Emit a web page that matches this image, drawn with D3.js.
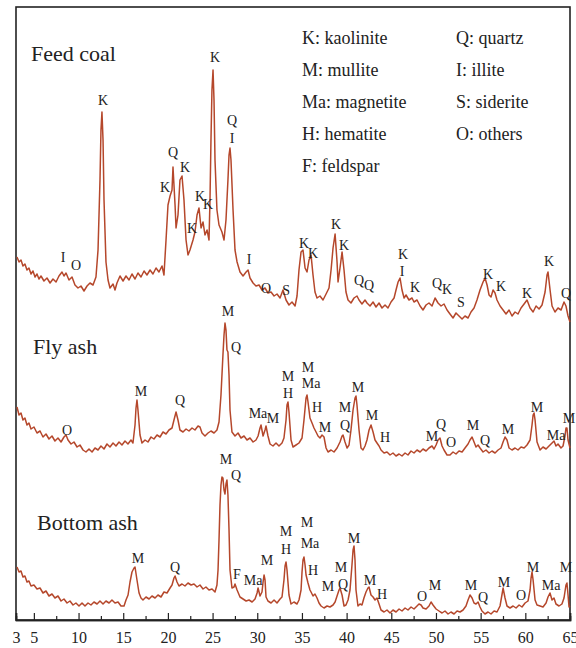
<!DOCTYPE html>
<html>
<head>
<meta charset="utf-8">
<script src="https://cdn.jsdelivr.net/npm/d3@7"></script>
<style>
  body { margin: 0; background: #fff; }
  svg text { font-family: "Liberation Serif", "DejaVu Serif", serif; fill: #222; }
</style>
</head>
<body>
<svg id="chart" width="576" height="648"></svg>
<script>
// 2-theta (deg) and stacked intensity (a.u.)
const feedCoal = [[3.11,358],[3.34,353],[3.56,355],[3.78,349],[4.0,351],[4.23,345],[4.45,347],[4.68,341],[4.9,344],[5.13,338],[5.35,341],[5.57,336],[5.8,339],[6.13,334],[6.47,337],[6.81,332],[7.14,336],[7.48,333],[7.81,339],[8.15,343],[8.37,339],[8.6,342],[8.93,335],[9.27,338],[9.6,330],[9.94,327],[10.27,329],[10.61,324],[10.95,329],[11.28,332],[11.62,330],[11.95,338],[12.18,365],[12.4,435],[12.51,485],[12.62,503],[12.74,475],[12.85,415],[13.07,353],[13.3,335],[13.52,327],[13.86,331],[14.08,325],[14.3,332],[14.64,339],[14.98,334],[15.31,339],[15.65,335],[15.98,341],[16.32,336],[16.65,342],[16.99,338],[17.33,344],[17.66,340],[18.0,345],[18.33,341],[18.67,347],[19.0,343],[19.34,349],[19.56,340],[19.79,375],[20.01,410],[20.24,419],[20.46,425],[20.57,448],[20.8,410],[20.91,387],[21.13,400],[21.35,435],[21.58,439],[21.8,415],[22.03,375],[22.25,360],[22.47,365],[22.81,375],[23.03,383],[23.26,400],[23.48,407],[23.71,387],[23.93,393],[24.15,380],[24.38,385],[24.6,375],[24.71,415],[24.82,475],[24.93,525],[25.05,545],[25.16,515],[25.27,455],[25.49,405],[25.72,390],[26.05,383],[26.28,375],[26.5,395],[26.72,435],[26.84,460],[26.95,467],[27.06,455],[27.29,405],[27.51,365],[27.74,353],[28.07,343],[28.41,339],[28.75,343],[28.97,345],[29.19,337],[29.53,332],[29.86,329],[30.2,330],[30.53,325],[30.87,327],[31.2,322],[31.54,323],[31.88,319],[32.21,321],[32.55,317],[32.88,325],[33.22,315],[33.55,310],[33.89,313],[34.23,309],[34.45,319],[34.67,345],[34.9,363],[35.12,365],[35.35,347],[35.57,343],[35.79,355],[36.02,360],[36.24,340],[36.46,323],[36.69,317],[37.02,319],[37.36,315],[37.7,321],[38.03,327],[38.26,345],[38.48,367],[38.71,381],[38.93,353],[39.04,333],[39.26,347],[39.49,363],[39.71,345],[39.93,323],[40.16,315],[40.49,312],[40.83,317],[41.16,319],[41.39,315],[41.72,311],[42.06,315],[42.28,312],[42.62,309],[42.96,313],[43.29,308],[43.63,312],[43.96,307],[44.3,310],[44.63,307],[44.97,313],[45.31,317],[45.53,325],[45.76,333],[45.98,337],[46.2,325],[46.43,317],[46.65,320],[46.98,315],[47.32,317],[47.54,313],[47.88,315],[48.22,309],[48.55,305],[48.89,310],[49.22,312],[49.56,309],[49.9,317],[50.23,312],[50.57,309],[50.9,311],[51.24,305],[51.57,301],[51.91,297],[52.24,302],[52.58,299],[52.92,296],[53.25,299],[53.59,297],[53.92,303],[54.26,307],[54.59,315],[54.93,325],[55.27,333],[55.49,337],[55.72,330],[55.94,320],[56.16,318],[56.39,325],[56.61,322],[56.83,315],[57.17,309],[57.51,305],[57.84,301],[58.18,305],[58.51,299],[58.85,303],[59.18,301],[59.52,307],[59.86,311],[60.19,315],[60.53,307],[60.87,303],[61.2,309],[61.54,306],[61.87,310],[62.21,323],[62.43,340],[62.54,343],[62.77,325],[62.99,309],[63.32,303],[63.66,307],[64.0,305],[64.33,313],[64.55,309],[64.78,299],[65.0,293]];

const flyAsh = [[3.11,208],[3.34,200],[3.56,202],[3.78,195],[4.0,197],[4.23,190],[4.45,192],[4.68,186],[5.01,188],[5.35,182],[5.69,184],[6.02,178],[6.36,181],[6.69,176],[7.03,179],[7.36,174],[7.7,177],[8.04,173],[8.37,178],[8.6,180],[8.82,175],[9.16,171],[9.49,173],[9.83,168],[10.16,170],[10.5,165],[10.83,163],[11.17,166],[11.51,163],[11.84,167],[12.18,165],[12.51,169],[12.85,166],[13.18,171],[13.52,168],[13.86,172],[14.19,169],[14.53,173],[14.86,170],[15.2,174],[15.53,171],[15.87,175],[16.09,172],[16.32,190],[16.43,207],[16.54,215],[16.65,205],[16.88,180],[17.1,172],[17.44,175],[17.77,173],[18.11,178],[18.44,176],[18.78,180],[19.12,178],[19.45,183],[19.79,181],[20.12,185],[20.46,187],[20.68,195],[20.91,203],[21.13,195],[21.35,185],[21.69,183],[22.03,186],[22.36,184],[22.7,187],[23.03,185],[23.37,189],[23.59,188],[23.82,182],[24.15,179],[24.49,182],[24.82,184],[25.16,182],[25.49,185],[25.72,193],[25.94,220],[26.16,260],[26.28,280],[26.39,292],[26.5,285],[26.61,265],[26.72,263],[26.84,240],[26.95,205],[27.17,183],[27.51,179],[27.85,182],[28.18,177],[28.52,179],[28.85,175],[29.19,177],[29.53,173],[29.86,175],[30.09,179],[30.31,187],[30.42,190],[30.65,179],[30.87,185],[30.98,189],[31.2,179],[31.43,171],[31.76,169],[32.1,172],[32.43,169],[32.77,172],[32.99,177],[33.22,195],[33.33,210],[33.44,213],[33.55,203],[33.78,175],[34.0,168],[34.34,170],[34.67,172],[35.01,177],[35.23,195],[35.46,217],[35.57,220],[35.68,213],[35.9,197],[36.13,192],[36.35,187],[36.58,183],[36.8,179],[37.02,177],[37.25,180],[37.47,178],[37.7,167],[37.92,163],[38.26,165],[38.59,163],[38.93,167],[39.26,173],[39.49,179],[39.6,180],[39.82,173],[40.05,167],[40.27,170],[40.49,185],[40.72,205],[40.94,217],[41.05,219],[41.16,210],[41.39,185],[41.61,167],[41.83,165],[42.06,169],[42.28,175],[42.51,185],[42.73,190],[42.96,183],[43.18,175],[43.4,172],[43.63,169],[43.85,165],[44.19,162],[44.52,163],[44.86,160],[45.19,162],[45.53,159],[45.87,161],[46.2,159],[46.54,162],[46.87,160],[47.21,164],[47.54,162],[47.88,165],[48.22,163],[48.55,166],[48.89,164],[49.22,167],[49.56,169],[49.78,166],[50.01,170],[50.23,175],[50.45,177],[50.68,169],[50.9,165],[51.24,160],[51.57,160],[51.91,163],[52.24,161],[52.58,164],[52.92,163],[53.25,167],[53.59,171],[53.81,175],[54.04,178],[54.26,173],[54.48,168],[54.71,170],[54.93,167],[55.27,163],[55.6,165],[55.94,162],[56.27,164],[56.61,162],[56.95,165],[57.28,167],[57.51,173],[57.73,178],[57.95,175],[58.18,167],[58.51,165],[58.85,167],[59.18,165],[59.52,168],[59.86,167],[60.19,170],[60.53,175],[60.75,190],[60.87,200],[60.98,202],[61.09,195],[61.31,173],[61.65,165],[61.98,168],[62.32,166],[62.65,169],[62.99,172],[63.21,174],[63.43,169],[63.66,171],[63.99,167],[64.22,169],[64.44,179],[64.55,187],[64.66,187],[64.78,175],[65.0,167]];

const bottomAsh = [[3.11,48],[3.34,43],[3.56,44],[3.78,38],[4.0,39],[4.23,33],[4.45,34],[4.68,29],[5.01,30],[5.35,26],[5.69,27],[6.02,22],[6.36,24],[6.69,19],[7.03,21],[7.36,17],[7.7,19],[8.04,14],[8.37,16],[8.71,12],[9.04,14],[9.38,10],[9.71,12],[10.05,9],[10.39,12],[10.72,9],[11.06,12],[11.39,10],[11.73,13],[12.07,11],[12.4,14],[12.74,11],[13.07,14],[13.41,12],[13.74,15],[14.08,12],[14.42,13],[14.75,9],[15.09,9],[15.31,15],[15.54,20],[15.76,33],[15.98,43],[16.21,47],[16.32,48],[16.54,35],[16.77,22],[16.99,17],[17.21,15],[17.55,18],[17.89,16],[18.22,19],[18.56,17],[18.89,20],[19.23,18],[19.56,23],[19.9,22],[20.24,27],[20.46,30],[20.68,37],[20.8,39],[21.02,33],[21.24,29],[21.58,31],[21.91,29],[22.25,32],[22.59,30],[22.92,31],[23.26,28],[23.59,30],[23.93,26],[24.26,28],[24.6,25],[24.94,26],[25.27,23],[25.49,30],[25.61,45],[25.72,75],[25.83,110],[25.94,130],[26.05,138],[26.16,137],[26.28,125],[26.39,121],[26.5,131],[26.61,135],[26.72,120],[26.84,85],[26.95,45],[27.17,27],[27.4,28],[27.51,31],[27.74,25],[28.07,18],[28.41,16],[28.75,14],[29.08,15],[29.42,13],[29.75,16],[29.98,22],[30.09,27],[30.31,19],[30.53,23],[30.65,33],[30.76,40],[30.87,35],[30.98,18],[31.2,14],[31.54,12],[31.88,15],[32.21,12],[32.55,16],[32.77,18],[32.99,35],[33.11,49],[33.22,53],[33.33,45],[33.55,20],[33.78,11],[34.11,13],[34.45,11],[34.67,15],[34.9,25],[35.01,43],[35.12,55],[35.23,58],[35.35,50],[35.46,40],[35.68,32],[35.9,25],[36.02,23],[36.24,19],[36.46,21],[36.69,17],[36.91,12],[37.14,9],[37.47,7],[37.81,9],[38.14,8],[38.48,10],[38.71,13],[38.93,19],[39.15,25],[39.26,27],[39.49,20],[39.71,9],[39.93,10],[40.16,15],[40.38,25],[40.6,50],[40.72,65],[40.83,69],[40.94,55],[41.05,25],[41.27,9],[41.5,11],[41.72,10],[41.94,17],[42.17,23],[42.39,27],[42.51,28],[42.73,20],[42.96,18],[43.18,15],[43.4,17],[43.63,11],[43.85,5],[44.19,3],[44.52,5],[44.86,2],[45.19,5],[45.53,3],[45.87,6],[46.2,4],[46.54,7],[46.87,5],[47.21,8],[47.54,6],[47.88,9],[48.1,11],[48.33,10],[48.55,7],[48.89,6],[49.22,9],[49.45,13],[49.67,10],[50.01,6],[50.34,4],[50.68,2],[51.01,4],[51.35,1],[51.68,3],[52.02,1],[52.36,4],[52.69,3],[53.03,5],[53.36,9],[53.59,15],[53.81,20],[54.04,17],[54.26,12],[54.48,11],[54.71,13],[54.93,8],[55.15,4],[55.49,1],[55.83,3],[56.16,1],[56.5,4],[56.83,3],[57.17,9],[57.4,21],[57.51,27],[57.73,17],[57.95,9],[58.29,7],[58.63,9],[58.96,7],[59.3,10],[59.63,8],[59.97,12],[60.3,14],[60.53,25],[60.64,37],[60.75,43],[60.87,35],[61.09,15],[61.31,10],[61.65,9],[61.98,8],[62.32,12],[62.54,18],[62.76,22],[62.99,15],[63.21,17],[63.43,11],[63.77,9],[64.1,11],[64.33,17],[64.55,30],[64.66,32],[64.78,20],[64.89,8],[65.0,9]];

// phase labels: [text, 2-theta, intensity at label centre]
const feedLabels = [["I",8.26,358],["O",9.72,350],["K",12.74,515],["K",19.68,428],["Q",20.57,463],["K",21.91,448],["K",22.7,387],["K",23.59,419],["K",24.49,411],["K",25.27,558],["Q",27.17,495],["I",27.17,477],["I",29.08,356],["O",30.98,327],["S",33.22,325],["K",35.23,372],["K",36.24,362],["K",38.81,391],["K",39.71,370],["Q",41.39,335],["Q",42.51,330],["K",46.31,361],["I",46.2,344],["K",47.66,328],["Q",50.12,332],["K",51.24,326],["S",52.8,313],["K",55.83,341],["K",57.28,329],["K",60.19,322],["K",62.65,354],["Q",64.55,322]];
const flyLabels = [["O",8.71,185],["M",16.99,224],["Q",21.35,215],["M",26.73,304],["Q",27.62,268],["Ma",30.08,202],["M",31.76,197],["M",33.44,239],["H",33.44,222],["M",35.68,248],["Ma",36.02,232],["H",36.69,208],["M",37.58,188],["M",39.82,208],["Q",39.82,190],["M",41.28,228],["M",42.84,200],["H",44.3,178],["M",49.56,179],["Q",50.57,191],["O",51.68,173],["M",54.15,190],["Q",55.49,175],["M",58.06,186],["M",61.31,208],["Ma",63.44,180],["M",64.89,197]];
const bottomLabels = [["M",16.65,57],["Q",20.8,48],["M",26.5,156],["Q",27.62,140],["F",27.73,41],["Ma",29.53,35],["M",31.09,55],["M",33.22,84],["H",33.22,66],["M",35.57,93],["Ma",35.9,72],["H",36.24,45],["M",37.92,29],["M",39.37,48],["Q",39.6,31],["M",40.83,77],["M",42.62,35],["H",43.96,21],["O",48.44,19],["M",49.89,30],["M",53.92,30],["Q",55.27,18],["M",57.62,33],["O",59.52,20],["M",60.86,48],["Ma",62.88,30],["M",64.55,48]];

const sampleNames = ["Feed coal", "Fly ash", "Bottom ash"];
const legendLeft = ["K: kaolinite", "M: mullite", "Ma: magnetite", "H: hematite", "F: feldspar"];
const legendRight = ["Q: quartz", "I: illite", "S: siderite", "O: others"];
const majorTicks = [3, 5, 10, 15, 20, 25, 30, 35, 40, 45, 50, 55, 60, 65];
const minorTicks = [7.5, 12.5, 17.5, 22.5, 27.5, 32.5, 37.5, 42.5, 47.5, 52.5, 57.5, 62.5];

const serif = '"Liberation Serif", "DejaVu Serif", serif';
const svg = d3.select('#chart');
const frameL = 16, frameR = 570, frameT = 7, frameB = 620;
const lineColor = '#b5472b';

const x = d3.scaleLinear().domain([3, 65]).range([frameL, frameR]);
const y = d3.scaleLinear().domain([0, 615]).range([615, 0]);

const line = d3.line().x(d => x(d[0])).y(d => y(d[1]));

// frame
svg.append('rect')
    .attr('x', frameL).attr('y', frameT)
    .attr('width', frameR - frameL).attr('height', frameB - frameT)
    .attr('fill', 'none').attr('stroke', '#222').attr('stroke-width', 1.6);

// patterns
[feedCoal, flyAsh, bottomAsh].forEach(series => {
    svg.append('path')
        .datum(series)
        .attr('d', line)
        .attr('fill', 'none')
        .attr('stroke', lineColor)
        .attr('stroke-width', 1.5)
        .attr('stroke-linejoin', 'round');
});

// peak labels
[feedLabels, flyLabels, bottomLabels].forEach(labels => {
    svg.append('g')
        .selectAll('text')
        .data(labels)
        .enter().append('text')
        .attr('x', d => x(d[1]))
        .attr('y', d => y(d[2]))
        .attr('dy', '0.35em')
        .attr('text-anchor', 'middle')
        .style('font-family', serif)
        .style('font-size', '14px')
        .text(d => d[0]);
});

// x axis, ticks pointing inward
const axisG = svg.append('g').attr('transform', `translate(0,${frameB})`);
axisG.call(d3.axisBottom(x).tickValues(majorTicks).tickSize(-7).tickPadding(12).tickFormat(d3.format('d')));
axisG.append('g').call(d3.axisBottom(x).tickValues(minorTicks).tickSize(-4).tickFormat(''));
axisG.selectAll('.domain').attr('stroke', '#222').attr('stroke-width', 1.6);
axisG.selectAll('.tick line').attr('stroke', '#222').attr('stroke-width', 1.2);
axisG.selectAll('.tick text')
    .style('font-family', serif)
    .style('font-size', '16px')
    .attr('fill', '#222');

// sample names
const namePos = [[31, 61], [33, 354], [37, 530]];
svg.append('g').selectAll('text')
    .data(sampleNames)
    .enter().append('text')
    .attr('x', (d, i) => namePos[i][0])
    .attr('y', (d, i) => namePos[i][1])
    .style('font-family', serif)
    .style('font-size', '22px')
    .text(d => d);

// legend
svg.append('g').selectAll('text')
    .data(legendLeft)
    .enter().append('text')
    .attr('x', 302).attr('y', (d, i) => 44 + i * 32)
    .style('font-family', serif)
    .style('font-size', '18px')
    .text(d => d);
svg.append('g').selectAll('text')
    .data(legendRight)
    .enter().append('text')
    .attr('x', 456).attr('y', (d, i) => 44 + i * 32)
    .style('font-family', serif)
    .style('font-size', '18px')
    .text(d => d);
</script>
</body>
</html>
